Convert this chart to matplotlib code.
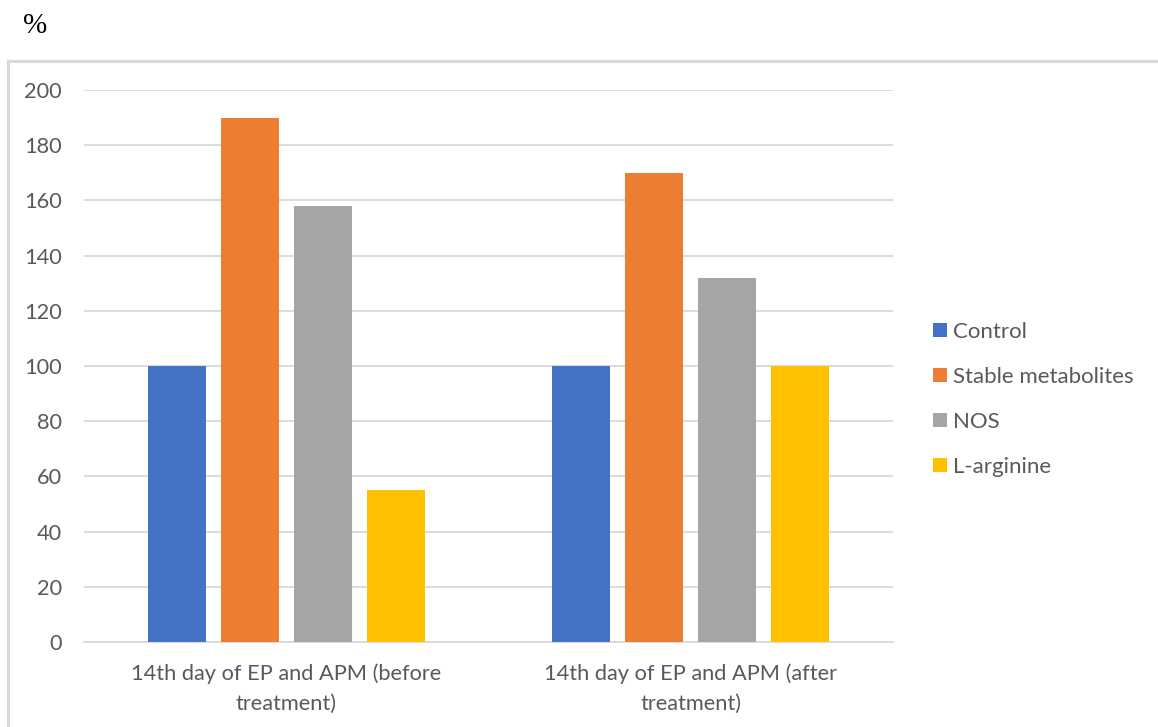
import numpy as np
import matplotlib.pyplot as plt
from matplotlib.patches import Rectangle

# data
categories = ['14th day of EP and APM (before\ntreatment)',
              '14th day of EP and APM (after\ntreatment)']
series = ['Control', 'Stable metabolites', 'NOS', 'L-arginine']
control = [100, 100]
stable_metabolites = [190, 170]
nos = [158, 132]
l_arginine = [55, 100]
colors = ['#4472C4', '#ED7D31', '#A5A5A5', '#FFC000']

values = [control, stable_metabolites, nos, l_arginine]

plt.rcParams['font.family'] = ['Lato', 'DejaVu Sans']
TXT = '#595959'

fig = plt.figure(figsize=(11.58, 7.27), dpi=100)
ax = fig.add_axes([84/1158, 1-642/727, (893-84)/1158, (642-90)/727])

x = np.arange(len(categories))
w = 0.143
step = 0.1805
for i in range(len(series)):
    ax.bar(x + (i - 1.5)*step, values[i], width=w, color=colors[i],
           label=series[i], zorder=3)

ax.set_xlim(-0.5, 1.5)
ax.set_ylim(0, 200)
ax.set_yticks(range(0, 201, 20))
ax.set_xticks(x)
ax.set_xticklabels(categories, fontsize=15.7, color=TXT, linespacing=1.6)
ax.tick_params(axis='y', length=0, pad=16, labelsize=15.7, labelcolor=TXT)
ax.tick_params(axis='x', length=0, pad=15.5)
ax.grid(axis='y', color='#d9d9d9', linewidth=1.3, zorder=0)
for s in ['top', 'right', 'left']:
    ax.spines[s].set_visible(False)
ax.spines['bottom'].set_color('#d9d9d9')
ax.spines['bottom'].set_linewidth(1.3)

leg = fig.legend(loc='upper left', bbox_to_anchor=(913/1158, 1-302/727),
                 frameon=False, fontsize=16, labelcolor=TXT,
                 handlelength=0.62, handleheight=0.62, handletextpad=0.3,
                 labelspacing=1.12)

# outer chart border (open on right/bottom, cropped in original)
fig.patches.append(Rectangle((8/1158, -0.05), 1.1, 1-61/727+0.05,
                             transform=fig.transFigure, fill=False,
                             edgecolor='#d9d9d9', linewidth=2.2))

fig.text(23/1158, 1-26/727, '%', fontsize=21, family='Liberation Serif',
         va='center', ha='left', color='black')

fig.savefig('out.png', dpi=100)
